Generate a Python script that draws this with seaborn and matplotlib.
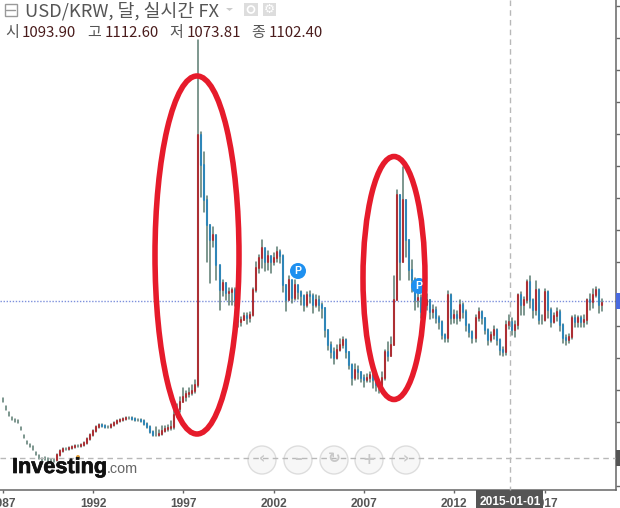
import numpy as np
import pandas as pd
import matplotlib
matplotlib.use('Agg')
import matplotlib.pyplot as plt
import matplotlib.patheffects as pe
from matplotlib.patches import Ellipse, Circle, Rectangle
import seaborn as sns

# two-monthly USD/KRW candles, 1987 onwards
closes = [
    793, 768, 749, 736, 730, 727, 705, 680, 661, 652, 643, 627,
    615, 608, 611, 608, 605, 605, 621, 633, 639, 639, 643, 646,
    649, 649, 652, 658, 671, 683, 696, 708, 714, 711, 708, 708,
    714, 721, 727, 730, 733, 736, 736, 733, 730, 730, 727, 718,
    708, 693, 683, 683, 686, 696, 702, 705, 708, 746, 764, 786,
    802, 811, 814, 821, 840, 1621, 1527, 1418, 1340, 1293, 1308, 1215,
    1136, 1158, 1127, 1130, 1136, 1105, 1036, 1043, 1055, 1049, 1058, 1136,
    1205, 1236, 1268, 1224, 1243, 1224, 1236, 1255, 1243, 1152, 1105, 1168,
    1111, 1152, 1130, 1118, 1090, 1121, 1118, 1090, 1105, 1090, 1080, 1011,
    964, 943, 924, 949, 964, 980, 943, 902, 861, 886, 880, 861,
    855, 861, 871, 855, 840, 833, 861, 943, 930, 964, 1105, 1433,
    1224, 1418, 1293, 1199, 1168, 1105, 1111, 1068, 1090, 1105, 1068, 1074,
    1049, 1036, 996, 986, 1121, 1049, 1058, 1049, 1090, 1068, 1027, 1005,
    986, 1049, 1068, 1049, 1011, 980, 996, 1011, 980, 949, 943, 1027,
    1036, 1011, 1027, 1121, 1090, 1105, 1161, 1105, 1074, 1136, 1043, 1043,
    1130, 1074, 1036, 1055, 1068, 1027, 986, 980, 990, 1049, 1036, 1049,
    1036, 1043, 1105, 1099, 1121, 1136, 1090, 1096,
]
highs = [
    798, 773, 754, 741, 735, 732, 710, 685, 666, 657, 648, 632,
    620, 613, 616, 613, 610, 610, 624, 636, 642, 642, 646, 649,
    652, 652, 655, 661, 674, 686, 699, 711, 717, 717, 714, 711,
    717, 724, 730, 733, 736, 739, 739, 739, 736, 733, 733, 730,
    721, 711, 696, 708, 699, 711, 711, 714, 727, 764, 780, 802,
    830, 821, 830, 840, 855, 1918, 1630, 1568, 1430, 1340, 1333, 1246,
    1168, 1168, 1158, 1143, 1143, 1143, 1105, 1052, 1065, 1065, 1068, 1143,
    1224, 1246, 1293, 1255, 1258, 1240, 1252, 1270, 1262, 1246, 1152, 1180,
    1130, 1168, 1150, 1135, 1121, 1130, 1135, 1125, 1120, 1118, 1095, 1080,
    1011, 975, 955, 965, 985, 990, 985, 943, 905, 905, 900, 880,
    870, 875, 880, 875, 860, 850, 880, 950, 975, 990, 1180, 1449,
    1433, 1521, 1418, 1293, 1230, 1175, 1130, 1120, 1100, 1125, 1105, 1090,
    1085, 1055, 1040, 1000, 1135, 1125, 1075, 1070, 1105, 1095, 1075, 1030,
    1010, 1060, 1080, 1070, 1050, 1015, 1005, 1025, 1015, 985, 960, 1040,
    1060, 1050, 1040, 1125, 1130, 1115, 1168, 1180, 1110, 1165, 1140, 1060,
    1140, 1135, 1080, 1065, 1080, 1075, 1030, 995, 1000, 1055, 1060, 1055,
    1055, 1060, 1110, 1125, 1140, 1146, 1140, 1110,
]
lows = [
    788, 763, 744, 731, 725, 722, 700, 675, 656, 647, 638, 622,
    610, 603, 606, 603, 600, 600, 602, 618, 630, 636, 636, 640,
    643, 646, 646, 649, 655, 668, 680, 693, 705, 708, 705, 705,
    705, 711, 718, 724, 727, 730, 733, 730, 727, 727, 724, 715,
    705, 690, 680, 680, 680, 683, 693, 696, 699, 702, 740, 755,
    786, 790, 802, 808, 815, 833, 1427, 1380, 1224, 1158, 1270, 1168,
    1074, 1118, 1105, 1090, 1090, 1086, 1021, 1024, 1043, 1030, 1036, 1055,
    1130, 1190, 1205, 1195, 1200, 1190, 1215, 1224, 1220, 1130, 1070, 1105,
    1095, 1105, 1108, 1090, 1070, 1085, 1095, 1065, 1085, 1070, 1050, 990,
    950, 925, 905, 920, 945, 955, 925, 890, 840, 855, 860, 850,
    835, 850, 850, 830, 820, 815, 830, 855, 915, 930, 964, 1105,
    1168, 1224, 1240, 1168, 1130, 1075, 1085, 1050, 1060, 1075, 1045, 1050,
    1035, 1015, 985, 975, 975, 1030, 1035, 1030, 1040, 1050, 1010, 990,
    970, 975, 1040, 1030, 1000, 965, 975, 985, 965, 935, 930, 935,
    1015, 995, 990, 1015, 1060, 1060, 1095, 1080, 1050, 1060, 1030, 1030,
    1040, 1050, 1020, 1035, 1040, 1010, 970, 965, 970, 985, 1020, 1020,
    1020, 1020, 1030, 1075, 1080, 1115, 1065, 1070,
]
# the first three years are only dots in the picture: no body, just the wick
dot_candles = 18
last_price = 1102.4
year_ticks = [1987, 1992, 1997, 2002, 2007, 2012, 2017]
price_ticks = [524, 624, 724, 824, 924, 1024, 1124, 1224, 1324, 1424, 1524, 1624, 1724, 1824, 1924, 2024]
ohlc_labels = ['시', '고', '저', '종']
ohlc_values = ['1093.90', '1112.60', '1073.81', '1102.40']

sns.set_theme(style='white')
plt.rcParams['font.family'] = ['Noto Sans CJK KR', 'DejaVu Sans']

years = 1987 + np.arange(len(closes)) / 6
opens = closes[:dot_candles] + closes[dot_candles - 1:-1]
direction = ['up' if c >= o else 'down' for o, c in zip(opens, closes)]

# long tables so every candle is one unit in lineplot
wicks = pd.DataFrame({'year': np.tile(years, 2), 'price': highs + lows,
                      'id': np.tile(np.arange(len(years)), 2)})
bodies = pd.DataFrame({'year': np.tile(years, 2), 'price': opens + closes,
                       'id': np.tile(np.arange(len(years)), 2),
                       'direction': direction * 2})

fig = plt.figure(figsize=(6.2, 5.08), dpi=100)
ax = fig.add_axes([0, 18 / 508, 615.5 / 620, 490 / 508])

sns.lineplot(data=wicks, x='year', y='price', units='id', estimator=None,
             color='#5a7a70', linewidth=1.1, ax=ax, legend=False)
sns.lineplot(data=bodies, x='year', y='price', units='id', estimator=None,
             hue='direction', palette={'up': '#ad2f34', 'down': '#2f86b8'},
             linewidth=1.5, ax=ax, legend=False)
ax.axhline(last_price, color='#7d90dc', linewidth=1, linestyle=(0, (1, 1.2)), zorder=1)

ax.set_xlim(1986.853, 2020.914)
ax.set_ylim(511.8, 2043)
ax.set_xlabel('')
ax.set_ylabel('')
ax.set_xticks(year_ticks)
ax.set_xticklabels([str(y) for y in year_ticks], family='Liberation Sans',
                   fontsize=8.6, fontweight='bold', color='#555555')
ax.yaxis.tick_right()
ax.set_yticks(price_ticks)
ax.set_yticklabels([])
ax.tick_params(axis='x', length=2.5, width=1, color='#666666', pad=3, bottom=True)
ax.tick_params(axis='y', length=3, width=1, color='#666666', right=True)
for side in ['top', 'left']:
    ax.spines[side].set_visible(False)
for side in ['bottom', 'right']:
    ax.spines[side].set_color('#666666')
    ax.spines[side].set_linewidth(1.1)

# overlay in picture pixels for the chart furniture
ov = fig.add_axes([0, 0, 1, 1], zorder=5)
ov.set_xlim(0, 620)
ov.set_ylim(508, 0)
ov.axis('off')
ov.patch.set_alpha(0)

dash = (0, (4, 3))
ov.plot([510, 510], [0, 490], color='#b8b8b8', linewidth=1, linestyle=dash)
ov.plot([0, 615], [458, 458], color='#b8b8b8', linewidth=1, linestyle=dash)

# date and price flags
ov.add_patch(Rectangle((476, 490), 67, 18, color='#555555', lw=0))
ov.text(510, 502, '2015-01-01', ha='center', va='center', color='white',
        family='Liberation Sans', fontsize=8.6, fontweight='bold')
ov.add_patch(Rectangle((616, 450), 4, 16, color='#555555', lw=0, clip_on=False))
ov.add_patch(Rectangle((616, 293), 4, 16, color='#4a6be0', lw=0, clip_on=False))

# nav buttons
for cx, sym in zip([262, 298, 334, 369, 406], ['‹', '–', '↻', '+', '›']):
    ov.add_patch(Circle((cx, 460), 14, facecolor='#f6f6f6', edgecolor='#d8d8d8', lw=1, alpha=0.85))
    ov.text(cx, 459, sym, ha='center', va='center', color='#c8c8c8', fontsize=11,
            family='DejaVu Sans', fontweight='bold')

# logo
ov.text(12, 473, 'Investing', family='Liberation Sans', fontweight='bold', fontsize=15.6,
        color='#111111', va='baseline',
        path_effects=[pe.withStroke(linewidth=0.5, foreground='#111111')])
ov.text(107, 473, '.com', family='Liberation Sans', fontsize=10.4, color='#666666', va='baseline')
ov.add_patch(Circle((78, 457), 2, color='#e8a33d', lw=0))

# P badges
for px, py in [(298, 271), (419, 286)]:
    ov.add_patch(Circle((px, py), 8, color='#1e90f0', lw=0))
    ov.text(px, py, 'P', ha='center', va='center', color='white', fontsize=7.5,
            family='Liberation Sans', fontweight='bold')

# hand drawn red circles
ov.add_patch(Ellipse((197, 255), 84, 358, fill=False, edgecolor='#e61b2b', lw=4))
ov.add_patch(Ellipse((394, 278), 62, 243, fill=False, edgecolor='#e61b2b', lw=4))

# header
ov.add_patch(Rectangle((4.5, 3.5), 12, 12, fill=False, edgecolor='#999999', lw=1))
ov.plot([6, 15], [9.5, 9.5], color='#999999', lw=1)
ov.text(25, 16, 'USD/KRW, 달, 실시간 FX', fontsize=13.2, color='#555555', va='baseline')
ov.fill([226, 233, 229.5], [8, 8, 11], color='#cccccc', lw=0)
ov.add_patch(Rectangle((244, 3), 14, 13, color='#dddddd', lw=0))
ov.add_patch(Circle((251, 9.5), 3.5, fill=False, edgecolor='white', lw=1.2))
ov.add_patch(Rectangle((263, 3), 13, 13, color='#dddddd', lw=0))
ov.text(269.5, 9.5, '⚙', ha='center', va='center', color='white', fontsize=9, family='DejaVu Sans')

for lx, vx, lab, val in zip([5, 87, 169, 251], [22, 105, 187, 269], ohlc_labels, ohlc_values):
    ov.text(lx, 37, lab, fontsize=10.8, color='#555555', va='baseline')
    ov.text(vx, 37, val, fontsize=10.8, color='#4a1c1c', va='baseline')

fig.savefig('out.png', dpi=100, facecolor='white')
